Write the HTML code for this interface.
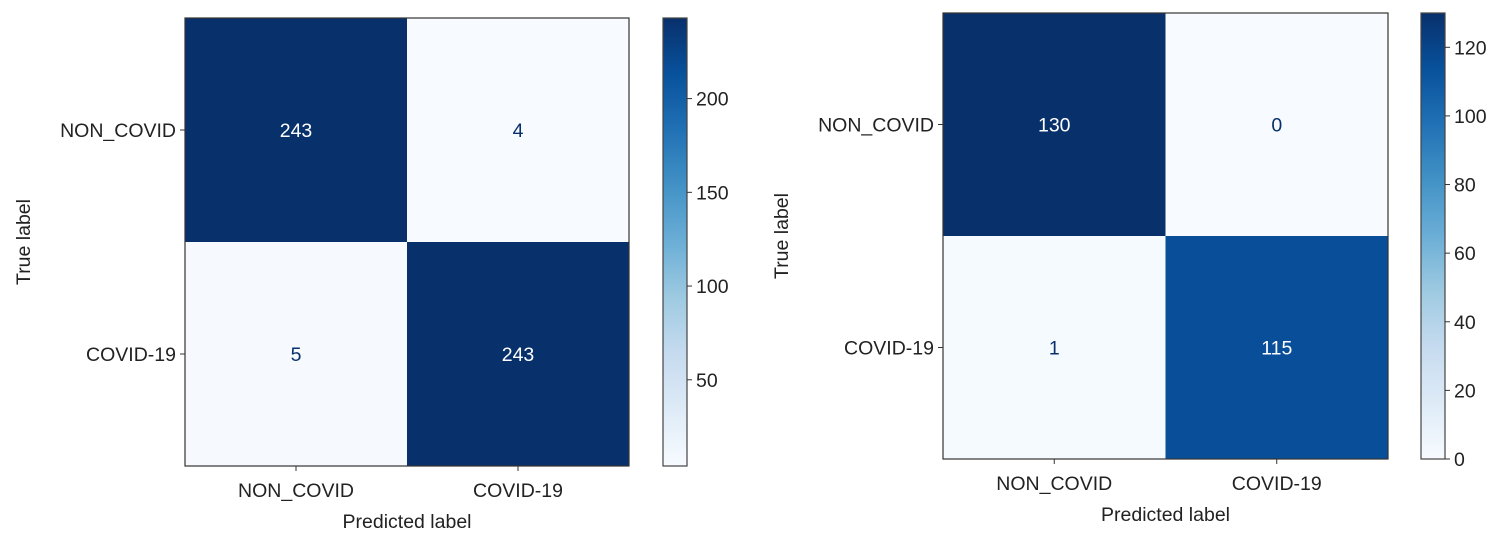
<!DOCTYPE html>
<html><head><meta charset="utf-8"><style>
html,body{margin:0;padding:0;background:#fff;}
svg{display:block;font-family:"Liberation Sans","DejaVu Sans",sans-serif;}
</style></head><body>
<svg id="chart" width="1500" height="545">
<defs>
<linearGradient id="blues" x1="0" y1="1" x2="0" y2="0">
<stop offset="0" stop-color="#f7fbff"/><stop offset="0.125" stop-color="#deebf7"/>
<stop offset="0.25" stop-color="#c6dbef"/><stop offset="0.375" stop-color="#9ecae1"/>
<stop offset="0.5" stop-color="#6baed6"/><stop offset="0.625" stop-color="#4292c6"/>
<stop offset="0.75" stop-color="#2171b5"/><stop offset="0.875" stop-color="#08519c"/>
<stop offset="1" stop-color="#08306b"/></linearGradient>
</defs>
</svg>
<script>
const classes = ["NON_COVID", "COVID-19"];
const leftValues = [[243, 4], [5, 243]];
const rightValues = [[130, 0], [1, 115]];
const leftTicks = [50, 100, 150, 200];
const rightTicks = [0, 20, 40, 60, 80, 100, 120];

const FS=19.5;
const stops=["#f7fbff","#deebf7","#c6dbef","#9ecae1","#6baed6","#4292c6","#2171b5","#08519c","#08306b"];
function hex(h){return [1,3,5].map(i=>parseInt(h.substr(i,2),16));}
function blues(t){t=Math.max(0,Math.min(1,t));const p=t*8,i=Math.min(7,Math.floor(p)),f=p-i;
 const a=hex(stops[i]),b=hex(stops[i+1]);return "rgb("+a.map((v,k)=>Math.round(v+(b[k]-v)*f)).join(",")+")";}
const svg=document.getElementById('chart');const NS="http://www.w3.org/2000/svg";
function el(tag,attrs,parent){const e=document.createElementNS(NS,tag);for(const k in attrs)e.setAttribute(k,attrs[k]);(parent||svg).appendChild(e);return e;}
function txt(s,attrs,parent){const e=el('text',attrs,parent);e.textContent=s;return e;}

function panel(prefix,values,ticks,x0,y0,w,h,cbx,cbw){
 const flat=values.flat();const vmin=Math.min(...flat),vmax=Math.max(...flat);
 const g=el('g',{});
 
 
 const n=classes.length,cw=w/n,ch=h/n;
 values.forEach((row,r)=>row.forEach((v,c)=>{
  const t=(v-vmin)/(vmax-vmin);
  const rect=el('rect',{x:x0+c*cw,y:y0+r*ch,width:cw,height:ch,fill:blues(t)},g);
  
  
  const tx=txt(String(v),{x:x0+(c+0.5)*cw,y:y0+(r+0.5)*ch+7,'text-anchor':'middle','font-size':FS,fill:t>0.5?'#ffffff':'#08306b'},g);
  
  
 }));
 el('rect',{x:x0,y:y0,width:w,height:h,fill:'none',stroke:'#333','stroke-width':1.2},g);
 classes.forEach((c,i)=>{
  const ty=y0+(i+0.5)*ch;
  el('line',{x1:x0-5,x2:x0,y1:ty,y2:ty,stroke:'#333'},g);
  const yl=txt(c,{x:x0-9,y:ty+7,'text-anchor':'end','font-size':FS,fill:'#222'},g);
  
  
  const tx=x0+(i+0.5)*cw;
  el('line',{x1:tx,x2:tx,y1:y0+h,y2:y0+h+5,stroke:'#333'},g);
  const xl=txt(c,{x:tx,y:y0+h+31,'text-anchor':'middle','font-size':FS,fill:'#222'},g);
  
  
 });
 const xt=txt('Predicted label',{x:x0+w/2,y:y0+h+62,'text-anchor':'middle','font-size':FS,fill:'#222'},g);
 
 
 const yx=x0-155,yy=y0+h/2;
 const yt=txt('True label',{x:yx,y:yy,'text-anchor':'middle','font-size':FS,fill:'#222',transform:'rotate(-90 '+yx+' '+yy+')'},g);
 
 
 const cb=el('g',{},g);
 
 
 el('rect',{x:cbx,y:y0,width:cbw,height:h,fill:'url(#blues)',stroke:'#444','stroke-width':1.2},cb);
 ticks.forEach(v=>{
  const ty=y0+h-(v-vmin)/(vmax-vmin)*h;
  el('line',{x1:cbx+cbw,x2:cbx+cbw+5,y1:ty,y2:ty,stroke:'#333'},cb);
  const l=txt(String(v),{x:cbx+cbw+9,y:ty+7,'font-size':FS,fill:'#222'},cb);
  
  
 });
}
panel('left',leftValues,leftTicks,185,18,444,448,663,24);
panel('right',rightValues,rightTicks,943,13,445,446,1421,24);
</script>
</body></html>
